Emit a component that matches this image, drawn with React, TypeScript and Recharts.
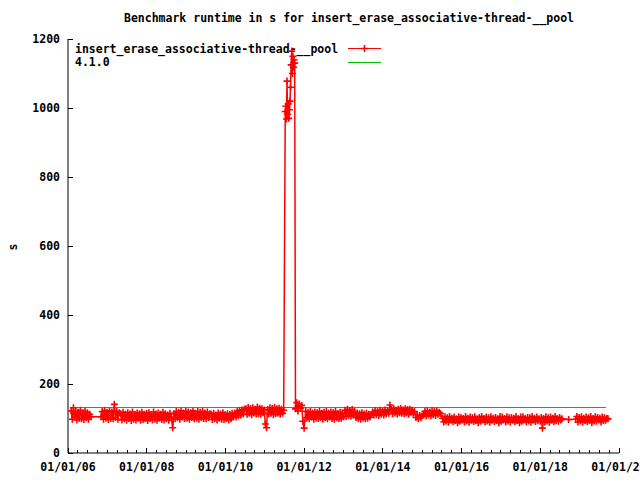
import React from 'react';
import { LineChart, Line, XAxis, YAxis } from 'recharts';

// axis ticks
const xMajorYears = [2006, 2008, 2010, 2012, 2014, 2016, 2018, 2020];
const yTicks = [0, 200, 400, 600, 800, 1000, 1200];

// runtime (s) of each benchmark run
const runs2006 = [122, 98, 131, 104, 120, 96, 118, 101, 124, 99, 116, 97, 121, 102, 117, 98, 112, 105];
const runs2007 = [105, 120, 98, 123, 101, 118, 97, 122, 100, 119, 99, 141, 103, 121, 98, 117];
const runs2007b = [
  114, 96, 118, 99, 112, 95, 117, 100, 113, 94, 119, 98, 111, 96, 116, 101, 114, 95, 118, 97, 112, 99,
  115, 94, 117, 100, 111, 96, 119, 98, 113, 95, 116, 101, 112, 97, 118, 96, 114, 99, 110, 95, 115, 104,
];
const runs2008 = [
  73, 114, 99, 120, 102, 118, 98, 122, 104, 116, 100, 121, 101, 119, 98, 117,
  103, 122, 99, 115, 101, 120, 98, 118, 102, 121, 100, 116, 99, 119, 103, 114,
];
const runs2009 = [112, 97, 115, 99, 110, 96, 116, 101, 113, 98, 117, 97, 111, 100, 114, 96, 112, 99, 115, 104];
const runs2010 = [116, 104, 120, 108, 123, 110, 125, 113, 127];
const runs2010b = [
  128, 112, 132, 115, 129, 111, 131, 116, 127, 113, 133, 114, 130, 112, 128, 117, 125,
  84, 73, 126, 113, 131, 115, 129, 111, 132, 114, 128, 116, 130, 112, 127, 115, 124,
];
const runsSpike = [990, 1005, 968, 1078, 982, 1012, 970, 995, 1020, 1060, 1125, 1165, 1100, 1150, 1118, 1140, 1130];
const runs2011 = [128, 146, 122, 142, 130, 138, 92, 72];
const runs2012 = [
  121, 102, 118, 99, 120, 104, 116, 98, 119, 101, 117, 100, 121, 103, 115, 98, 118,
  102, 120, 99, 116, 104, 119, 100, 117, 98, 121, 103, 114, 99, 118, 101, 116, 105,
];
const runs2013 = [124, 106, 127, 109, 123, 107, 126, 110, 120];
const runs2013b = [103, 116, 100, 114, 98, 117, 102, 113, 99, 115, 101, 112, 104, 110];
const runs2013c = [119, 110, 123, 111, 121, 109, 124, 112, 120, 110, 125, 113, 122, 115, 139];
const runs2014 = [126, 114, 128, 116, 124, 113, 127, 117, 129, 115, 125, 114, 128, 116, 126, 112, 127, 118, 124, 115, 120];
const runs2014b = [103, 111, 99, 109, 102, 108];
const runs2015 = [113, 121, 107, 122, 110, 119, 108, 123, 111, 120, 109, 122, 112, 118, 114];
const runs2015b = [
  100, 90, 105, 93, 102, 89, 106, 95, 101, 91,
  104, 94, 99, 88, 105, 92, 103, 96, 100, 90,
  106, 93, 101, 89, 104, 95, 102, 91, 105, 94,
  99, 88, 103, 92, 106, 96, 100, 90, 104, 93,
  102, 89, 105, 95, 101, 91, 103, 94, 99, 88,
  106, 92, 104, 96, 100, 90, 105, 93, 102, 89,
  103, 95, 101, 91, 106, 94, 99, 88, 104, 92,
  105, 96, 100, 90, 103, 93, 102, 89, 106, 95,
  101, 91, 104, 94, 99, 92, 103, 72,
  100, 90, 105, 93, 102, 89, 104, 95, 101, 91, 106, 94, 100, 92, 103, 96, 99,
];
const runs2018 = [97];
const runs2019 = [
  98, 106, 90, 103, 93, 105, 89, 101, 94, 104, 91, 102, 95, 106, 88,
  100, 93, 105, 92, 103, 96, 101, 90, 104, 94, 102, 95, 100, 99,
];

// reference version 4.1.0
const refYears = [2006.08, 2019.66];
const refValues = [132, 132];

const spans: [number, number, number[]][] = [
  [2006.08, 2006.58, runs2006],
  [2006.84, 2007.3, runs2007],
  [2007.34, 2008.62, runs2007b],
  [2008.66, 2009.6, runs2008],
  [2009.64, 2010.2, runs2009],
  [2010.24, 2010.48, runs2010],
  [2010.52, 2011.48, runs2010b],
  [2011.52, 2011.76, runsSpike],
  [2011.78, 2012.0, runs2011],
  [2012.04, 2013.0, runs2012],
  [2013.04, 2013.28, runs2013],
  [2013.32, 2013.7, runs2013b],
  [2013.74, 2014.18, runs2013c],
  [2014.22, 2014.8, runs2014],
  [2014.84, 2015.0, runs2014b],
  [2015.04, 2015.46, runs2015],
  [2015.52, 2018.55, runs2015b],
  [2018.72, 2018.72, runs2018],
  [2018.9, 2019.72, runs2019],
];

const runs = spans.flatMap(([from, to, values]) =>
  values.map((v, i) => ({
    t: values.length > 1 ? from + ((to - from) * i) / (values.length - 1) : from,
    v,
  }))
);
const reference = refYears.map((t, i) => ({ t, v: refValues[i] }));

const xTicks: number[] = [];
for (let y = 2006; y <= 2020; y += 0.25) xTicks.push(y);

const font = "'DejaVu Sans Mono', monospace";
const isMajor = (v: number) => xMajorYears.includes(v);

const BottomTick = ({ x, y, payload }: any) => {
  const major = isMajor(payload.value);
  return (
    <g>
      <line x1={x} y1={y} x2={x} y2={y - (major ? 5 : 3)} stroke="#000" shapeRendering="crispEdges" />
      {major && (
        <text x={x} y={y + 18} textAnchor="middle" fontFamily={font} fontWeight="bold" fontSize={11.5} fill="#000">
          {`01/01/${String(payload.value % 100).padStart(2, '0')}`}
        </text>
      )}
    </g>
  );
};

const TopTick = ({ x, y, payload }: any) => (
  <line x1={x} y1={y} x2={x} y2={y + (isMajor(payload.value) ? 5 : 3)} stroke="#000" shapeRendering="crispEdges" />
);

const LeftTick = ({ x, y, payload }: any) => (
  <g>
    <line x1={x} y1={y} x2={x + 5} y2={y} stroke="#000" shapeRendering="crispEdges" />
    <text x={x - 8} y={y + 4} textAnchor="end" fontFamily={font} fontWeight="bold" fontSize={11.5} fill="#000">
      {payload.value}
    </text>
  </g>
);

const RightTick = ({ x, y }: any) => (
  <line x1={x} y1={y} x2={x - 5} y2={y} stroke="#000" shapeRendering="crispEdges" />
);

const plus = (cx: number, cy: number) => `M${cx - 3.5},${cy}h7M${cx},${cy - 3.5}v7`;

const PlusDot = ({ cx, cy, index }: any) => (
  <path key={`p-${index}`} d={plus(cx, cy)} stroke="#ff0000" strokeWidth={1.6} fill="none" />
);

export default function App() {
  return (
    <div style={{ position: 'fixed', left: 0, top: 0, width: 640, height: 480, background: '#fff' }}>
      <svg width={640} height={480} style={{ position: 'absolute', left: 0, top: 0 }}>
        <text x={349} y={22} textAnchor="middle" fontFamily={font} fontWeight="bold" fontSize={11.5} fill="#000">
          Benchmark runtime in s for insert_erase_associative-thread-__pool
        </text>
        <text x={0} y={0} transform="translate(17,247) rotate(-90)" textAnchor="middle" fontFamily={font} fontWeight="bold" fontSize={11.5} fill="#000">
          s
        </text>
        <text x={75} y={53} fontFamily={font} fontWeight="bold" fontSize={11.5} fill="#000">
          insert_erase_associative-thread-__pool
        </text>
        <line x1={348} y1={48.5} x2={381} y2={48.5} stroke="#ff0000" />
        <path d={plus(364.5, 48.5)} stroke="#ff0000" strokeWidth={1.6} fill="none" />
        <text x={75} y={66} fontFamily={font} fontWeight="bold" fontSize={11.5} fill="#000">
          4.1.0
        </text>
        <line x1={348} y1={62.5} x2={381} y2={62.5} stroke="#00c000" />
      </svg>
      <div style={{ position: 'absolute', left: 0, top: 0 }}>
        <LineChart width={640} height={480} margin={{ top: 39, right: 21, bottom: 7, left: 8 }}>
          <XAxis
            xAxisId="b"
            type="number"
            dataKey="t"
            domain={[2006, 2020]}
            allowDataOverflow
            ticks={xTicks}
            interval={0}
            height={20}
            tickSize={0}
            tickMargin={0}
            tick={<BottomTick />}
            axisLine={{ stroke: '#000' }}
          />
          <XAxis
            xAxisId="top"
            orientation="top"
            type="number"
            dataKey="t"
            domain={[2006, 2020]}
            allowDataOverflow
            ticks={xTicks}
            interval={0}
            height={0}
            tickSize={0}
            tickMargin={0}
            tick={<TopTick />}
            axisLine={{ stroke: '#000' }}
          />
          <YAxis
            yAxisId="l"
            type="number"
            domain={[0, 1200]}
            ticks={yTicks}
            interval={0}
            width={60}
            tickSize={0}
            tickMargin={0}
            tick={<LeftTick />}
            axisLine={{ stroke: '#000' }}
          />
          <YAxis
            yAxisId="r"
            orientation="right"
            type="number"
            domain={[0, 1200]}
            ticks={yTicks}
            interval={0}
            width={0}
            tickSize={0}
            tickMargin={0}
            tick={<RightTick />}
            axisLine={{ stroke: '#000' }}
          />
          <Line
            xAxisId="b"
            yAxisId="l"
            data={reference}
            dataKey="v"
            type="linear"
            stroke="#00c000"
            strokeWidth={1}
            shapeRendering="crispEdges"
            dot={false}
            activeDot={false}
            isAnimationActive={false}
          />
          <Line
            xAxisId="b"
            yAxisId="l"
            data={runs}
            dataKey="v"
            type="linear"
            stroke="#ff0000"
            strokeWidth={1.5}
            dot={PlusDot}
            activeDot={false}
            isAnimationActive={false}
          />
        </LineChart>
      </div>
    </div>
  );
}
